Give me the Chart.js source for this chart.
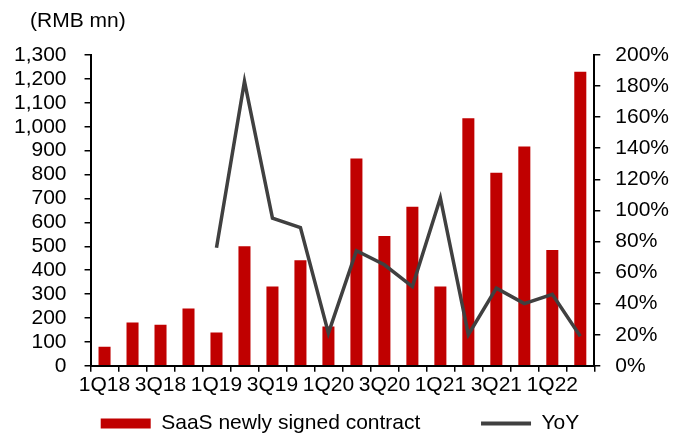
<!DOCTYPE html>
<html><head><meta charset="utf-8">
<script src="https://cdn.jsdelivr.net/npm/chart.js@4"></script>
<style>html,body{margin:0;padding:0;background:#fff}</style>
</head><body>
<canvas id="c" width="686" height="441" style="display:block;width:686px;height:441px"></canvas>
<script>
const categories = ['1Q18','2Q18','3Q18','4Q18','1Q19','2Q19','3Q19','4Q19','1Q20','2Q20','3Q20','4Q20','1Q21','2Q21','3Q21','4Q21','1Q22','2Q22'];
const contractValues = [80,181,172,240,139,500,332,442,164,867,543,665,332,1035,808,917,484,1230];
const yoyValues = [null,null,null,null,76,183,95,89,21,74,65,51,108,20,50,40,46,19];
const xTickLabels = ['1Q18','3Q18','1Q19','3Q19','1Q20','3Q20','1Q21','3Q21','1Q22'];
const seriesNames = ['SaaS newly signed contract','YoY'];
const unitLabel = '(RMB mn)';

const FONT = {family: "Arial, 'Liberation Sans', sans-serif", size: 21};
const BAR_COLOR = '#C00000';
const LINE_COLOR = '#404040';

const unitPlugin = {
  id: 'unitLabel',
  afterDraw(chart) {
    const ctx = chart.ctx;
    ctx.save();
    ctx.font = FONT.size + 'px ' + FONT.family;
    ctx.fillStyle = '#000';
    ctx.textBaseline = 'middle';
    ctx.textAlign = 'left';
    ctx.fillText(unitLabel, 30, 21);
    ctx.restore();
  }
};

new Chart(document.getElementById('c'), {
  data: {
    labels: categories,
    datasets: [
      {type: 'bar', label: seriesNames[0], data: contractValues, backgroundColor: BAR_COLOR,
       yAxisID: 'y', order: 1, barPercentage: 0.43, categoryPercentage: 1},
      {type: 'line', label: seriesNames[1], data: yoyValues, borderColor: LINE_COLOR, backgroundColor: LINE_COLOR,
       borderWidth: 3.5, pointRadius: 0, tension: 0, yAxisID: 'y1', order: 0}
    ]
  },
  options: {
    responsive: false,
    devicePixelRatio: 1,
    animation: false,
    layout: {padding: {left: -4, right: 2, top: 55, bottom: -3}},
    plugins: {
      tooltip: {enabled: false},
      legend: {
        position: 'bottom',
        labels: {
          usePointStyle: true, pointStyleWidth: 50, boxHeight: 10,
          font: FONT, color: '#000', padding: 14,
          generateLabels() {
            return [
              {text: seriesNames[0] + '        ', fillStyle: BAR_COLOR, strokeStyle: BAR_COLOR, lineWidth: 0, pointStyle: 'rect', datasetIndex: 0, hidden: false, fontColor: '#000'},
              {text: seriesNames[1], fillStyle: LINE_COLOR, strokeStyle: LINE_COLOR, lineWidth: 4, pointStyle: 'line', datasetIndex: 1, hidden: false, fontColor: '#000'}
            ];
          }
        }
      }
    },
    scales: {
      x: {
        grid: {display: true, drawOnChartArea: false, drawTicks: true, tickLength: 6, color: '#000', lineWidth: 1.5, offset: true},
        border: {color: '#000', width: 2},
        ticks: {autoSkip: false, maxRotation: 0, minRotation: 0, padding: 1, font: FONT, color: '#000',
          callback: (v, i) => xTickLabels.includes(categories[i]) ? categories[i] : ''}
      },
      y: {
        position: 'left', min: 0, max: 1300,
        grid: {drawOnChartArea: false, drawTicks: true, tickLength: 6, color: '#000', lineWidth: 1.5},
        border: {color: '#000', width: 2},
        ticks: {autoSkip: false, stepSize: 100, padding: 18, font: FONT, color: '#000', callback: v => v.toLocaleString('en-US')}
      },
      y1: {
        position: 'right', min: 0, max: 200,
        grid: {drawOnChartArea: false, drawTicks: true, tickLength: 6, color: '#000', lineWidth: 1.5},
        border: {color: '#000', width: 2},
        ticks: {autoSkip: false, stepSize: 20, padding: 15, font: FONT, color: '#000', callback: v => v + '%'}
      }
    }
  },
  plugins: [unitPlugin]
});
</script>
</body></html>
